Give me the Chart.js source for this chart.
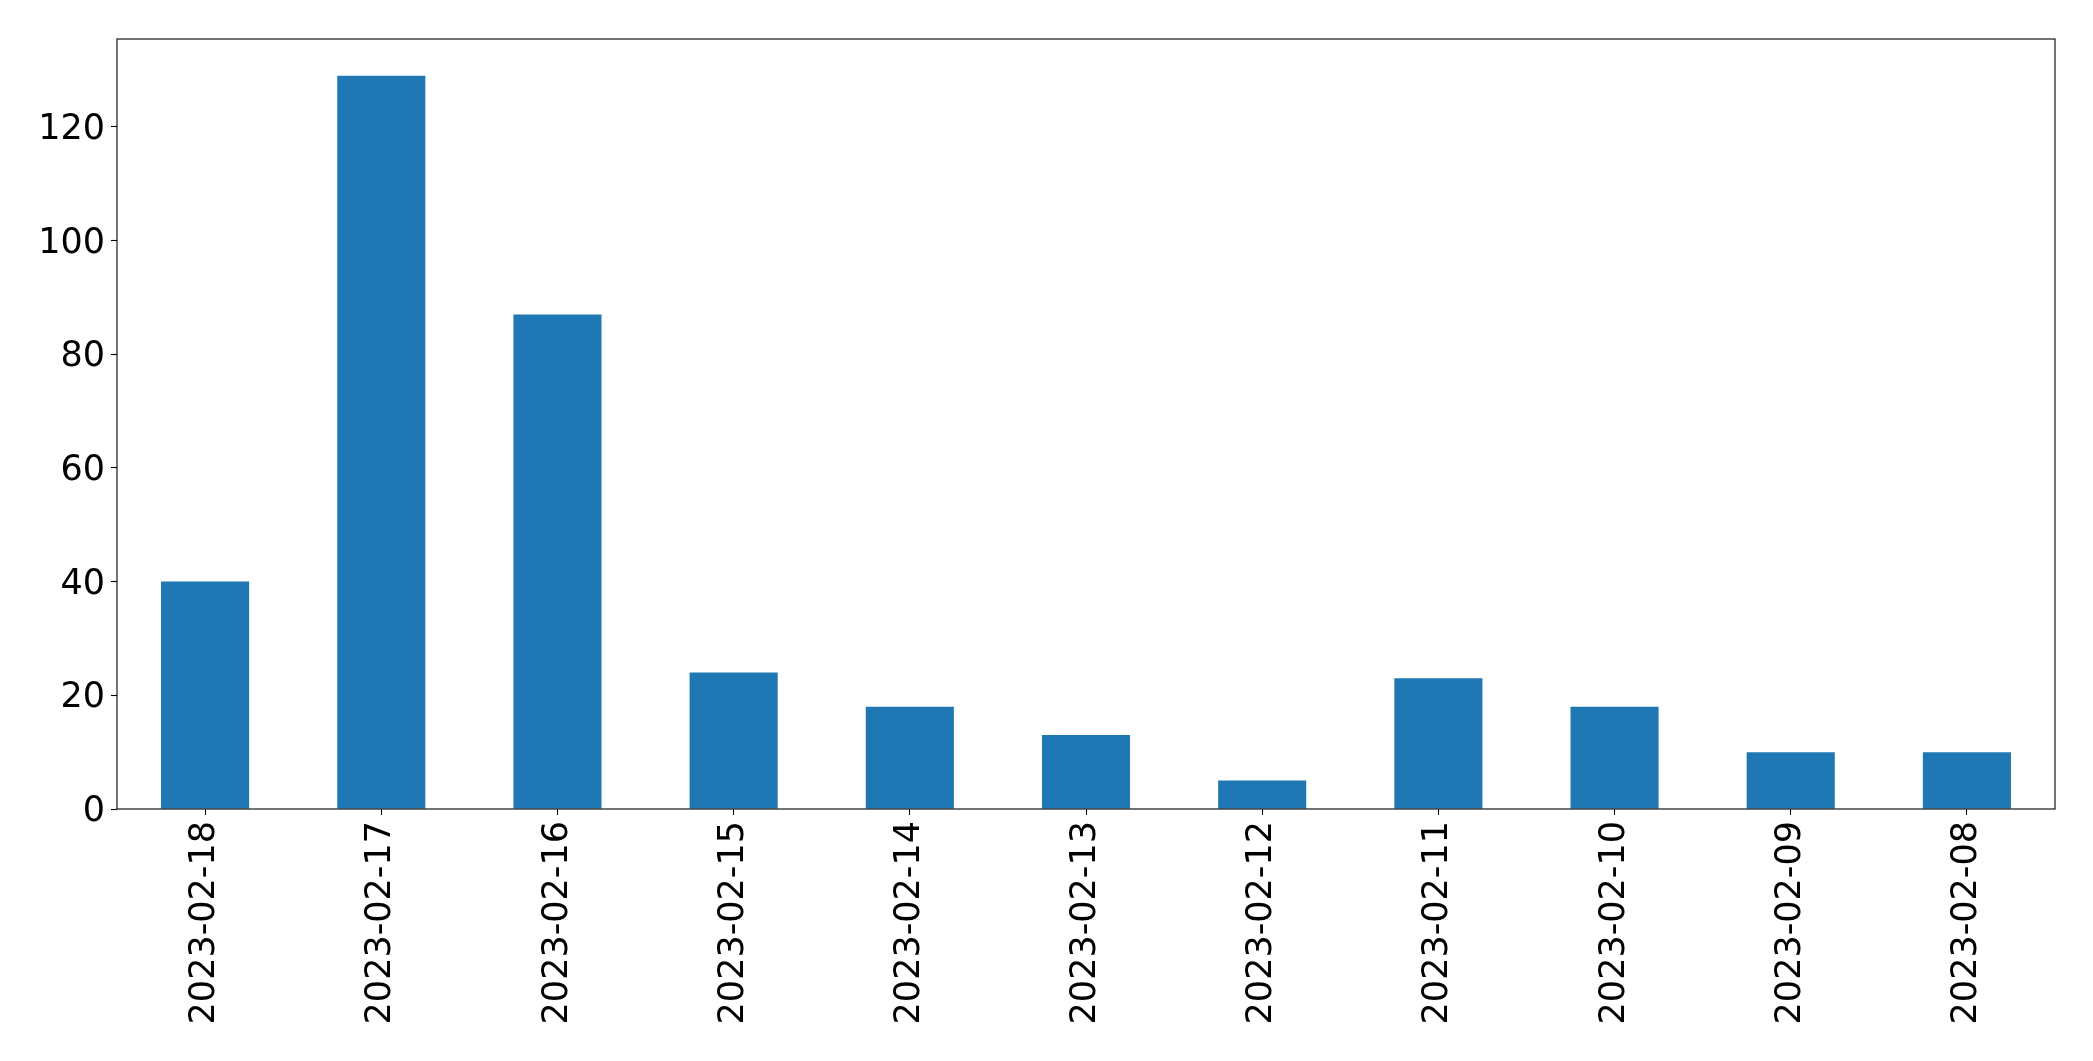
<!DOCTYPE html>
<html>
<head>
<meta charset="utf-8">
<script src="https://cdn.jsdelivr.net/npm/chart.js@4/dist/chart.umd.min.js"></script>
<style>
  html, body { margin: 0; padding: 0; background: #fff; }
  #wrap { width: 2093px; height: 1061px; }
</style>
</head>
<body>
<div id="wrap"><canvas id="chart" width="2093" height="1061"></canvas></div>
<script>
// dates as they appear on the x axis (newest first)
const dates = [
  "2023-02-18", "2023-02-17", "2023-02-16", "2023-02-15", "2023-02-14", "2023-02-13",
  "2023-02-12", "2023-02-11", "2023-02-10", "2023-02-09", "2023-02-08"
];

// count per day
const counts = [40, 129, 87, 24, 18, 13, 5, 23, 18, 10, 10];

const yTicks = [0, 20, 40, 60, 80, 100, 120];

const fontSpec = { family: "'DejaVu Sans', sans-serif", size: 35 };

// draws the box around the plot area, like matplotlib's spines
const frame = {
  id: "frame",
  afterDraw(chart) {
    const { ctx, chartArea } = chart;
    ctx.save();
    ctx.strokeStyle = "#000";
    ctx.lineWidth = 1.1;
    ctx.strokeRect(chartArea.left, chartArea.top,
      chartArea.right - chartArea.left, chartArea.bottom - chartArea.top);
    ctx.restore();
  }
};

const ctx = document.getElementById("chart").getContext("2d");
new Chart(ctx, {
  type: "bar",
  data: {
    labels: dates,
    datasets: [{
      data: counts,
      backgroundColor: "#1f77b4",
      borderWidth: 0,
      barPercentage: 0.5,
      categoryPercentage: 1.0,
    }],
  },
  options: {
    responsive: false,
    animation: false,
    layout: { padding: { top: 39, right: 38, left: 0, bottom: 0 } },
    plugins: {
      legend: { display: false },
      tooltip: { enabled: false },
    },
    scales: {
      x: {
        offset: true,
        border: { display: false },
        grid: {
          offset: false,
          drawOnChartArea: false,
          drawTicks: true,
          tickLength: 6,
          tickColor: "#000",
          tickWidth: 1.1,
        },
        ticks: {
          color: "#000",
          font: fontSpec,
          autoSkip: false,
          minRotation: 90,
          maxRotation: 90,
          padding: 6,
        },
        afterFit(scale) { scale.height = 252; },
      },
      y: {
        min: 0,
        max: 135.45,
        border: { display: false },
        grid: {
          drawOnChartArea: false,
          drawTicks: true,
          tickLength: 6,
          tickColor: "#000",
          tickWidth: 1.1,
        },
        ticks: {
          color: "#000",
          font: fontSpec,
          stepSize: 20,
          includeBounds: false,
          padding: 6,
          labelOffset: 3,
        },
        afterBuildTicks(scale) {
          scale.ticks = yTicks.map(v => ({ value: v }));
        },
        afterFit(scale) { scale.width = 117; },
      },
    },
  },
  plugins: [frame],
});
</script>
</body>
</html>
